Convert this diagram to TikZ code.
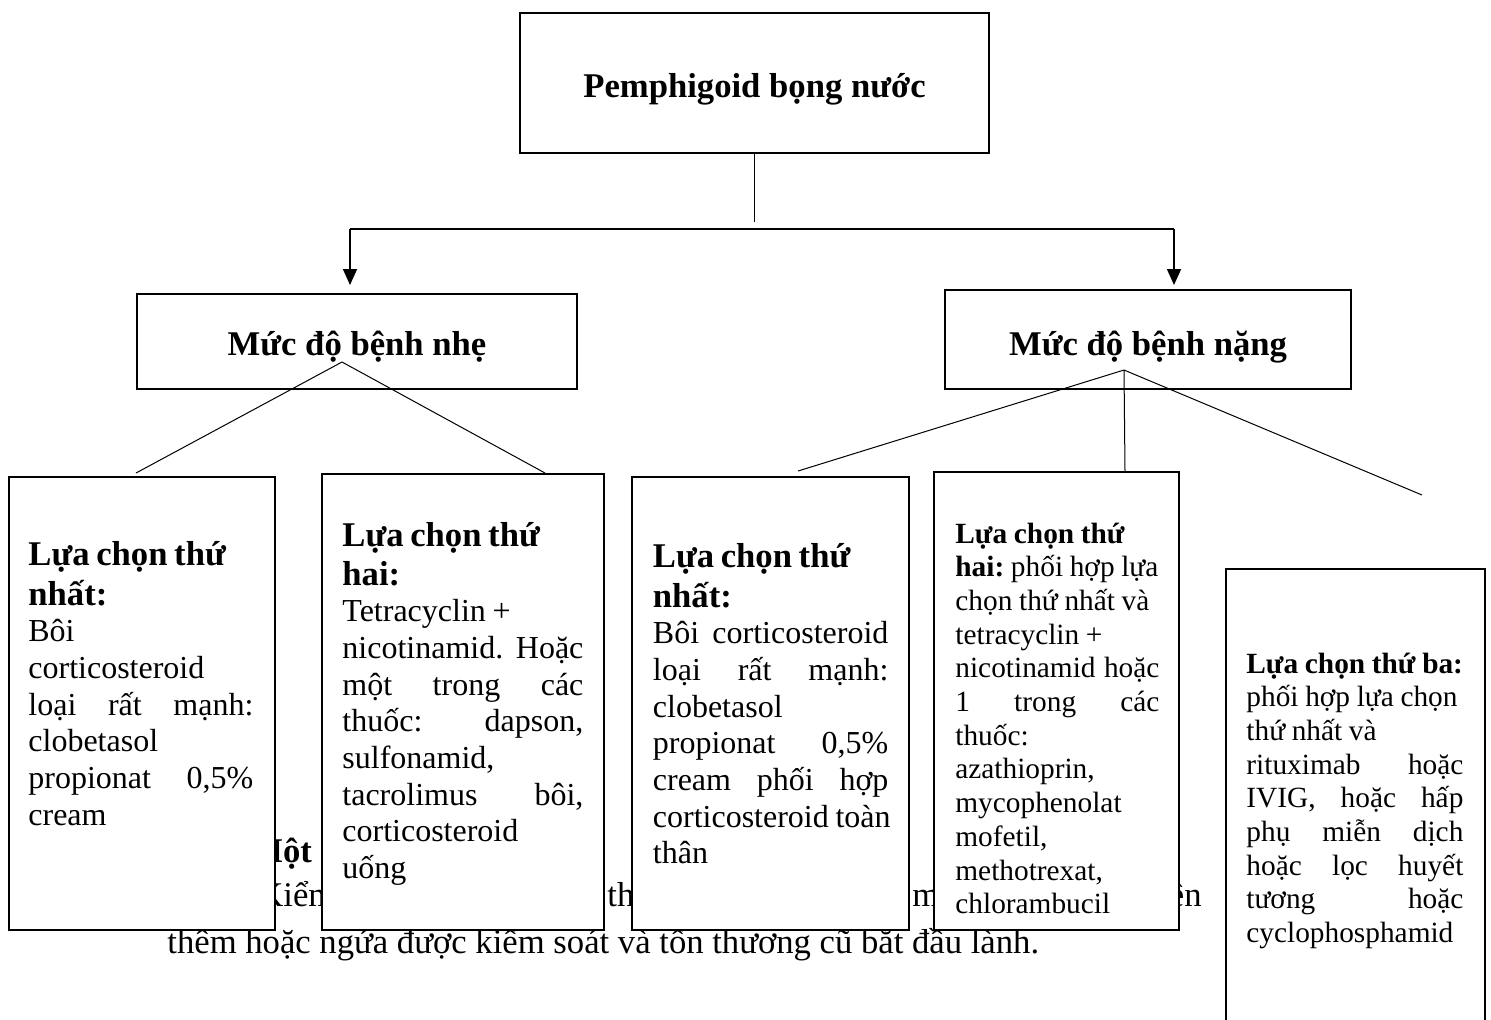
\documentclass[tikz,border=0pt]{standalone}
\usepackage{fontspec}
\setmainfont{Liberation Serif}
\usetikzlibrary{arrows.meta,fit}
\frenchspacing
\newcommand{\jl}[1]{\leavevmode\hbox to \hsize{#1}}
\newcommand{\nl}[1]{\mbox{#1}}
\newcommand{\hdfont}{\fontsize{17.33pt}{20pt}\selectfont\bfseries}
\newcommand{\bdfont}{\fontsize{16pt}{18.35pt}\selectfont}
\newcommand{\smfont}{\fontsize{14.67pt}{16.85pt}\selectfont}
\begin{document}
\begin{tikzpicture}[x=0.5pt,y=-0.5pt,
  box/.style={draw, line width=0.7pt, fill=white, inner sep=0pt, rectangle},
  conn/.style={line width=0.5pt},
  hline/.style={line width=0.8pt},
  arr/.style={line width=0.8pt, -{Triangle[length=8pt,width=7pt]}},
  title/.style={anchor=base, inner sep=0pt, font=\hdfont},
  boxtext/.style={anchor=base west, inner sep=0pt, align=left},
  bgtext/.style={inner sep=0pt, font=\fontsize{17.33pt}{20pt}\selectfont}
]
\useasboundingbox (0,0) rectangle (1491,1019);
\fill[white] (0,0) rectangle (1491,1019);

% background document text (partly hidden by the boxes)
\node[bgtext, anchor=base west, font=\fontsize{17.33pt}{20pt}\selectfont\bfseries] (mot) at (250,862) {Một};
\node[bgtext, anchor=base west] (kiem) at (258,906) {Kiểm};
\node[bgtext, anchor=base west] (thuong) at (607,906) {thư};
\node[bgtext, anchor=base west] (moi) at (912,906) {m};
\node[bgtext, anchor=base east] (hien) at (1202,906) {ên};
\node[bgtext, anchor=base west] (them) at (167,953) {thêm hoặc ngứa được kiểm soát và tổn thương cũ bắt đầu lành.};

% boxes
\node[box, fit={(520,13) (989,153)}] (top) {};
\node[box, fit={(137,294) (577,389)}] (mild) {};
\node[box, fit={(945,290) (1351,389)}] (severe) {};
\node[box, fit={(9,477) (275,930)}] (b1) {};
\node[box, fit={(322,474) (604,930)}] (b2) {};
\node[box, fit={(632,477) (909,930)}] (b3) {};
\node[box, fit={(934,472) (1179,930)}] (b4) {};
\node[box, fit={(1226,569) (1485,1040)}] (b5) {};

% titles
\node[title] (toptxt) at (754.5,97) {Pemphigoid bọng nước};
\node[title] (mildtxt) at (357,355) {Mức độ bệnh nhẹ};
\node[title] (sevtxt) at (1148,355) {Mức độ bệnh nặng};

% box texts
\node[boxtext, text width=112.5pt] (t1) at (28,565) {%
{\hdfont Lựa chọn thứ\\nhất:\par}%
{\bdfont Bôi\\corticosteroid\\\jl{loại\hfill rất\hfill mạnh:}\\clobetasol\\\jl{propionat\hfill 0,5\%}\\cream\par}};

\node[boxtext, text width=120.5pt] (t2) at (342,546) {%
{\fontsize{17.33pt}{19.5pt}\selectfont\bfseries Lựa chọn thứ\\hai:\par}%
{\bdfont \nl{Tetracyclin +}\\\jl{nicotinamid.\ \hfill Hoặc}\\\jl{một\hfill trong\hfill các}\\\jl{thuốc:\hfill dapson,}\\sulfonamid,\\\jl{tacrolimus\hfill bôi,}\\corticosteroid\\uống\par}};

\node[boxtext, text width=117.75pt] (t3) at (652.5,567) {%
{\hdfont Lựa chọn thứ\\nhất:\par}%
{\bdfont \jl{Bôi\hfill corticosteroid}\\\jl{loại\hfill rất\hfill mạnh:}\\clobetasol\\\jl{propionat\hfill 0,5\%}\\\jl{cream\hfill phối\hfill hợp}\\\jl{corticosteroid\ \hfill toàn}\\thân\par}};

\node[boxtext, text width=102pt] (t4) at (955,543) {%
{\smfont \nl{\textbf{Lựa chọn thứ}}\\\nl{\textbf{hai:} phối hợp lựa}\\\nl{chọn thứ nhất và}\\\nl{tetracyclin +}\\\jl{nicotinamid\ \hfill hoặc}\\\jl{1\hfill trong\hfill các}\\thuốc:\\azathioprin,\\mycophenolat\\mofetil,\\methotrexat,\\chlorambucil\par}};

\node[boxtext, text width=108.5pt] (t5) at (1246,673) {%
{\smfont \nl{\textbf{Lựa chọn thứ ba:}}\\\nl{phối hợp lựa chọn}\\\nl{thứ nhất và}\\\jl{rituximab\hfill hoặc}\\\jl{IVIG,\hfill hoặc\hfill hấp}\\\jl{phụ\hfill miễn\hfill dịch}\\\jl{hoặc\hfill lọc\hfill huyết}\\\jl{tương\hfill hoặc}\\cyclophosphamid\par}};

% connectors
\coordinate (stub) at (754.5,222);
\coordinate (splitL) at (350,229);
\coordinate (splitR) at (1174,229);
\coordinate (mildIn) at (350,285);
\coordinate (sevIn) at (1174,285);
\draw[conn] (top.south) -- (stub);
\draw[hline] (splitL) -- (splitR);
\draw[arr] (splitL) -- (mildIn);
\draw[arr] (splitR) -- (sevIn);

\coordinate (mildApex) at (342,362);
\coordinate (b1End) at (136,473);
\coordinate (b2End) at (545,473);
\draw[conn] (mildApex) -- (b1End);
\draw[conn] (mildApex) -- (b2End);

\coordinate (sevApex) at (1124,370);
\coordinate (b3End) at (798,471);
\coordinate (b4End) at (1125,472);
\coordinate (b5End) at (1422,495);
\draw[conn] (sevApex) -- (b3End);
\draw[conn] (sevApex) -- (b4End);
\draw[conn] (sevApex) -- (b5End);
\end{tikzpicture}
\end{document}
